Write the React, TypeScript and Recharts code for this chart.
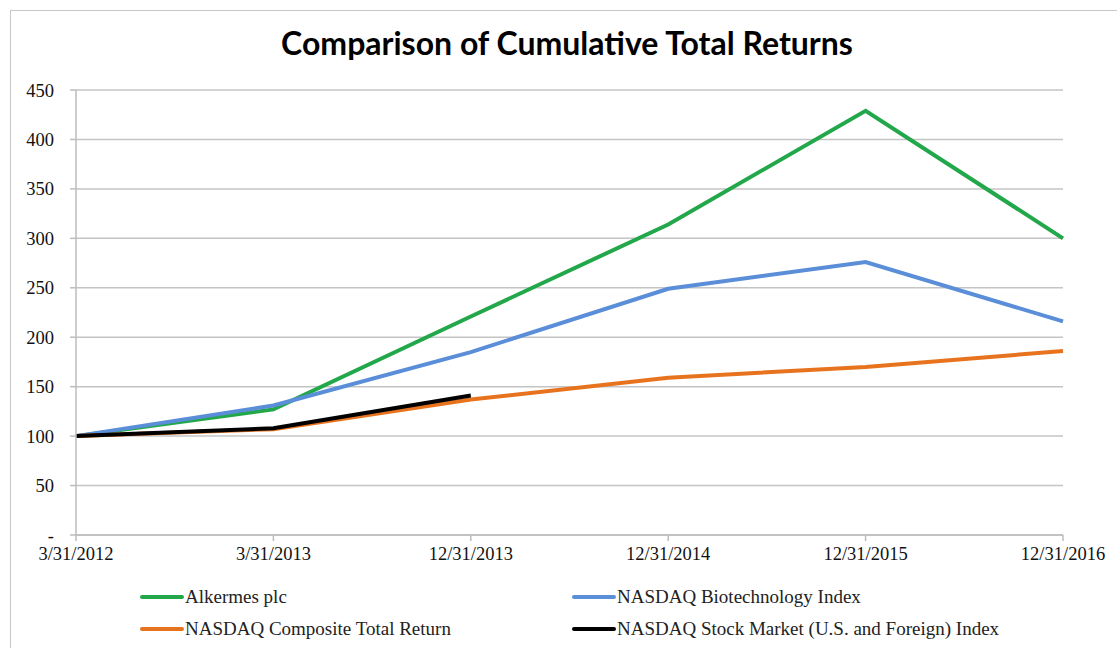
import { LineChart, Line, XAxis, YAxis, CartesianGrid } from "recharts";

const dates = ["3/31/2012", "3/31/2013", "12/31/2013", "12/31/2014", "12/31/2015", "12/31/2016"];
const alkermes = [100, 127, 221, 314, 429, 300];
const biotech = [100, 131, 185, 249, 276, 216];
const composite = [100, 107, 137, 159, 170, 186];
const stockMarket = [100, 108, 141, null, null, null];
const yTicks = [0, 50, 100, 150, 200, 250, 300, 350, 400, 450];

const series = [
  { key: "alkermes", name: "Alkermes plc", color: "#22a84a" },
  { key: "biotech", name: "NASDAQ Biotechnology Index", color: "#5b8ed8" },
  { key: "composite", name: "NASDAQ Composite Total Return", color: "#e8731f" },
  { key: "stockMarket", name: "NASDAQ Stock Market (U.S. and Foreign) Index", color: "#000000" },
];

const data = dates.map((date, i) => ({
  date,
  alkermes: alkermes[i],
  biotech: biotech[i],
  composite: composite[i],
  stockMarket: stockMarket[i],
}));

const serif = "'Liberation Serif', 'Times New Roman', serif";

function LegendBox() {
  return (
    <div
      style={{
        position: "absolute",
        left: 140,
        top: 585,
        display: "grid",
        gridTemplateColumns: "432px 500px",
        rowGap: 9,
        fontFamily: serif,
        fontSize: 19,
        color: "#222",
      }}
    >
      {series.map((s) => (
        <div key={s.key} style={{ display: "flex", alignItems: "center", height: 23, whiteSpace: "nowrap" }}>
          <span style={{ display: "inline-block", width: 44, height: 4, background: s.color, borderRadius: 2, marginRight: 1 }} />
          {s.name}
        </div>
      ))}
    </div>
  );
}

export default function App() {
  return (
    <div style={{ position: "absolute", left: 0, top: 0, width: 1117, height: 648, overflow: "hidden", background: "#fff" }}>
      <div
        style={{
          position: "absolute",
          left: 10,
          top: 10,
          width: 1130,
          height: 660,
          border: "1.5px solid #c8c8c8",
        }}
      />
      <div
        style={{
          position: "absolute",
          left: 0,
          width: 1134,
          top: 23,
          textAlign: "center",
          fontFamily: "Lato, 'Open Sans', sans-serif",
          fontWeight: 700,
          fontSize: 32,
          color: "#000",
        }}
      >
        Comparison of Cumulative Total Returns
      </div>
      <div style={{ position: "absolute", left: 0, top: 0 }}>
        <LineChart width={1117} height={648} data={data} margin={{ top: 90, right: 54, left: 16, bottom: 83 }}>
          <CartesianGrid vertical={false} stroke="#c4c4c4" strokeWidth={1.5} />
          <XAxis
            dataKey="date"
            height={30}
            stroke="#bdbdbd"
            strokeWidth={1.5}
            tickSize={6}
            tick={{ fill: "#111", fontFamily: serif, fontSize: 18.5 }}
            interval={0}
            tickMargin={6}
            padding={{ left: 0, right: 0 }}
          />
          <YAxis
            width={60}
            domain={[0, 450]}
            ticks={yTicks}
            stroke="#bdbdbd"
            strokeWidth={1.5}
            tickSize={6}
            tickMargin={16}
            tick={{ fill: "#111", fontFamily: serif, fontSize: 18.5 }}
            tickFormatter={(v) => (v === 0 ? "-" : String(v))}
          />
          {series.map((s) => (
            <Line
              key={s.key}
              dataKey={s.key}
              name={s.name}
              stroke={s.color}
              strokeWidth={4}
              dot={false}
              activeDot={false}
              type="linear"
              isAnimationActive={false}
            />
          ))}
        </LineChart>
      </div>
      <LegendBox />
    </div>
  );
}
